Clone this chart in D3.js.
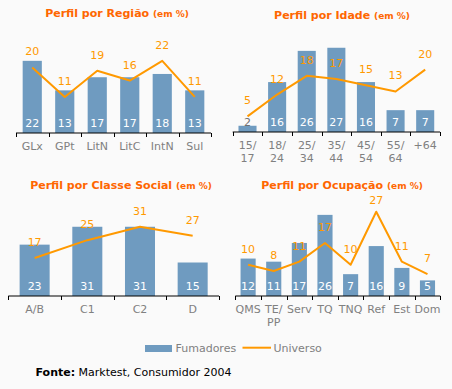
<!DOCTYPE html>
<html><head><meta charset="utf-8">
<script src="https://cdn.jsdelivr.net/npm/d3@7"></script>
<style>
html,body{margin:0;padding:0;background:#FAFAFA;}
svg{display:block;}
text{font-family:"DejaVu Sans",Verdana,sans-serif;}
</style></head><body>
<script>
// ---- DATA ----
const regiaoCats = ["GLx","GPt","LitN","LitC","IntN","Sul"];
const regiaoFum = [22,13,17,17,18,13];
const regiaoUni = [20,11,19,16,22,11];

const idadeCats = [["15/","17"],["18/","24"],["25/","34"],["35/","44"],["45/","54"],["55/","64"],["+64"]];
const idadeFum = [2,16,26,27,16,7,7];
const idadeUni = [5,12,18,17,15,13,20];

const classeCats = ["A/B","C1","C2","D"];
const classeFum = [23,31,31,15];
const classeUni = [17,25,31,27];

const ocupCats = [["QMS"],["TE/","PP"],["Serv"],["TQ"],["TNQ"],["Ref"],["Est"],["Dom"]];
const ocupFum = [12,11,17,26,7,16,9,5];
const ocupUni = [10,8,11,17,10,27,11,7];

const titles = ["Perfil por Região","Perfil por Idade","Perfil por Classe Social","Perfil por Ocupação"];
const legendLabels = ["Fumadores","Universo"];

// ---- LAYOUT ----
const W = 452, H = 389;
const barColor = "#6f9bc0", lineColor = "#ff9900", titleColor = "#ff6600", tickColor = "#808080";

const svg = d3.select("body").append("svg").attr("width", W).attr("height", H);
svg.append("rect").attr("width", W).attr("height", H).attr("fill", "#FAFAFA");

const panels = [
  {title: titles[0], cats: regiaoCats.map(c=>[c]), fum: regiaoFum, uni: regiaoUni,
   x0: 16, x1: 211, axisY: 133, top: 51, max: 25, barRatio: 0.59, tx: 117, ty: 17},
  {title: titles[1], cats: idadeCats, fum: idadeFum, uni: idadeUni,
   x0: 232.7, x1: 440, axisY: 132, top: 54, max: 25, barRatio: 0.61, tx: 342, ty: 19},
  {title: titles[2], cats: classeCats.map(c=>[c]), fum: classeFum, uni: classeUni,
   x0: 8.3, x1: 219, axisY: 296, top: 229, max: 30, barRatio: 0.57, tx: 121, ty: 189},
  {title: titles[3], cats: ocupCats, fum: ocupFum, uni: ocupUni,
   x0: 235.3, x1: 440.3, axisY: 296, top: 218, max: 25, barRatio: 0.59, tx: 342, ty: 189}
];

panels.forEach(p => {
  const g = svg.append("g");
  const keys = p.cats.map(c => c.join(""));
  const x = d3.scaleBand().domain(keys).range([p.x0, p.x1]).padding(0);
  const y = d3.scaleLinear().domain([0, p.max]).range([p.axisY, p.top]);
  const bw = x.bandwidth() * p.barRatio;
  const cx = k => x(k) + x.bandwidth() / 2;

  // title
  const t = g.append("text").attr("x", p.tx).attr("y", p.ty).attr("text-anchor", "middle")
    .attr("fill", titleColor).attr("font-weight", "bold").attr("font-size", "11px");
  t.append("tspan").text(p.title + " ");
  t.append("tspan").attr("font-size", "9px").text("(em %)");

  // bars
  g.selectAll("rect.bar").data(p.fum).join("rect").attr("class", "bar")
    .attr("x", (d, i) => cx(keys[i]) - bw / 2)
    .attr("y", d => y(d))
    .attr("width", bw)
    .attr("height", d => p.axisY - y(d))
    .attr("fill", barColor);

  // bar labels
  g.selectAll("text.bl").data(p.fum).join("text").attr("class", "bl")
    .attr("x", (d, i) => cx(keys[i]))
    .attr("y", p.axisY - 6.5)
    .attr("text-anchor", "middle").attr("font-size", "11px")
    .attr("fill", d => (p.axisY - y(d)) < 12 ? "#707070" : "#ffffff")
    .text(d => d);

  // line
  const line = d3.line().x((d, i) => cx(keys[i])).y(d => y(d));
  g.append("path").datum(p.uni).attr("d", line).attr("fill", "none")
    .attr("stroke", lineColor).attr("stroke-width", 2).attr("stroke-linejoin", "round");

  // line labels (kept clear of the panel title)
  g.selectAll("text.ll").data(p.uni).join("text").attr("class", "ll")
    .attr("x", (d, i) => cx(keys[i]))
    .attr("y", d => Math.max(y(d) - 12, p.ty + 15))
    .attr("text-anchor", "middle").attr("font-size", "11px")
    .attr("fill", lineColor).text(d => d);

  // axis
  const axis = d3.axisBottom(x).tickSize(0).tickFormat("");
  const ag = g.append("g").attr("transform", `translate(0,${p.axisY})`).call(axis);
  ag.select(".domain").attr("stroke", "#000").attr("d", `M${p.x0},0H${p.x1}`);
  const bounds = keys.map(k => x(k)).concat([p.x1]);
  ag.selectAll("line.tk").data(bounds).join("line").attr("class", "tk")
    .attr("x1", d => Math.round(d) + 0.5).attr("x2", d => Math.round(d) + 0.5)
    .attr("y1", 0).attr("y2", 4).attr("stroke", "#000");

  // category labels
  p.cats.forEach((lines, i) => {
    const tt = g.append("text").attr("x", cx(keys[i])).attr("y", p.axisY + 17)
      .attr("text-anchor", "middle").attr("font-size", "11px").attr("fill", tickColor);
    lines.forEach((ln, j) => tt.append("tspan").attr("x", cx(keys[i])).attr("dy", j === 0 ? 0 : 13.3).text(ln));
  });
});

// legend
const lg = svg.append("g");
lg.append("rect").attr("x", 145).attr("y", 345).attr("width", 27).attr("height", 7).attr("fill", barColor);
lg.append("text").attr("x", 175.5).attr("y", 351.5).attr("font-size", "11px").attr("fill", tickColor).text(legendLabels[0]);
lg.append("line").attr("x1", 242.5).attr("x2", 271).attr("y1", 347.7).attr("y2", 347.7)
  .attr("stroke", lineColor).attr("stroke-width", 2);
lg.append("text").attr("x", 273.5).attr("y", 351.5).attr("font-size", "11px").attr("fill", tickColor).text(legendLabels[1]);

// source
const src = svg.append("text").attr("x", 35.5).attr("y", 376).attr("font-size", "11px").attr("fill", "#000");
src.append("tspan").attr("font-weight", "bold").text("Fonte:");
src.append("tspan").text(" Marktest, Consumidor 2004");
</script>
</body></html>
